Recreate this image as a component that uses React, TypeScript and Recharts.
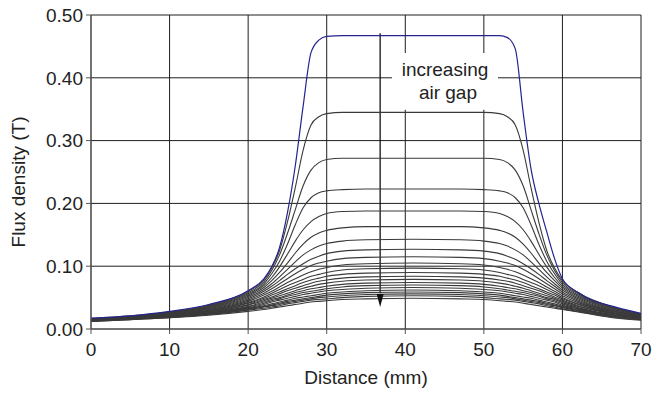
import React from 'react';
import {
  LineChart,
  Line,
  XAxis,
  YAxis,
  CartesianGrid,
  ReferenceArea,
  ReferenceLine,
  ReferenceDot,
} from 'recharts';

// distance along the magnet (mm), shared by every curve
const distance = [0, 5, 10, 15, 20, 22, 23, 24, 25, 26, 27, 28, 29, 30, 32, 35, 41, 47, 50, 52, 53, 54, 55, 56, 57, 58, 59, 60, 62, 67, 70];

// flux density (T), one row per air gap, smallest gap first
const fluxByGap: number[][] = [
  [0.017, 0.021, 0.028, 0.039, 0.061, 0.080, 0.099, 0.130, 0.185, 0.260, 0.355, 0.440, 0.460, 0.466, 0.467, 0.467, 0.467, 0.467, 0.467, 0.467, 0.464, 0.446, 0.345, 0.255, 0.200, 0.155, 0.112, 0.080, 0.058, 0.034, 0.025],
  [0.017, 0.021, 0.027, 0.038, 0.060, 0.078, 0.097, 0.125, 0.170, 0.225, 0.285, 0.325, 0.338, 0.343, 0.345, 0.345, 0.345, 0.345, 0.345, 0.343, 0.338, 0.325, 0.285, 0.225, 0.170, 0.125, 0.097, 0.077, 0.058, 0.033, 0.024],
  [0.016, 0.020, 0.027, 0.037, 0.058, 0.075, 0.093, 0.118, 0.152, 0.190, 0.228, 0.253, 0.265, 0.270, 0.272, 0.272, 0.272, 0.272, 0.272, 0.270, 0.265, 0.253, 0.228, 0.190, 0.152, 0.118, 0.093, 0.074, 0.056, 0.032, 0.024],
  [0.016, 0.020, 0.026, 0.036, 0.056, 0.072, 0.088, 0.108, 0.135, 0.166, 0.193, 0.209, 0.217, 0.220, 0.222, 0.223, 0.223, 0.223, 0.222, 0.220, 0.217, 0.209, 0.193, 0.166, 0.135, 0.108, 0.088, 0.071, 0.054, 0.031, 0.023],
  [0.016, 0.020, 0.026, 0.035, 0.054, 0.069, 0.082, 0.099, 0.119, 0.140, 0.158, 0.171, 0.179, 0.184, 0.187, 0.188, 0.188, 0.188, 0.187, 0.184, 0.179, 0.171, 0.158, 0.140, 0.119, 0.099, 0.082, 0.068, 0.052, 0.030, 0.023],
  [0.016, 0.019, 0.025, 0.034, 0.052, 0.066, 0.077, 0.090, 0.105, 0.121, 0.135, 0.146, 0.153, 0.157, 0.161, 0.163, 0.163, 0.163, 0.161, 0.157, 0.153, 0.146, 0.135, 0.121, 0.105, 0.090, 0.077, 0.065, 0.050, 0.029, 0.022],
  [0.015, 0.019, 0.025, 0.033, 0.050, 0.063, 0.072, 0.083, 0.095, 0.107, 0.118, 0.126, 0.132, 0.136, 0.140, 0.142, 0.143, 0.142, 0.140, 0.136, 0.132, 0.126, 0.118, 0.107, 0.095, 0.083, 0.072, 0.062, 0.048, 0.028, 0.022],
  [0.015, 0.019, 0.024, 0.032, 0.048, 0.060, 0.068, 0.077, 0.087, 0.096, 0.104, 0.111, 0.116, 0.120, 0.124, 0.126, 0.127, 0.126, 0.124, 0.120, 0.116, 0.111, 0.104, 0.096, 0.087, 0.077, 0.068, 0.059, 0.046, 0.027, 0.021],
  [0.015, 0.018, 0.024, 0.031, 0.046, 0.057, 0.064, 0.072, 0.080, 0.088, 0.095, 0.101, 0.105, 0.108, 0.112, 0.114, 0.115, 0.114, 0.112, 0.108, 0.105, 0.101, 0.095, 0.088, 0.080, 0.072, 0.064, 0.056, 0.044, 0.027, 0.021],
  [0.015, 0.018, 0.023, 0.030, 0.044, 0.054, 0.060, 0.067, 0.074, 0.080, 0.086, 0.091, 0.095, 0.098, 0.102, 0.104, 0.105, 0.104, 0.102, 0.098, 0.095, 0.091, 0.086, 0.080, 0.074, 0.067, 0.060, 0.053, 0.042, 0.026, 0.020],
  [0.014, 0.018, 0.023, 0.029, 0.042, 0.051, 0.057, 0.063, 0.069, 0.074, 0.079, 0.084, 0.087, 0.090, 0.094, 0.096, 0.097, 0.096, 0.094, 0.090, 0.087, 0.084, 0.079, 0.074, 0.069, 0.063, 0.057, 0.050, 0.040, 0.025, 0.020],
  [0.014, 0.018, 0.022, 0.028, 0.041, 0.049, 0.054, 0.059, 0.064, 0.069, 0.074, 0.078, 0.081, 0.084, 0.087, 0.089, 0.090, 0.089, 0.087, 0.084, 0.081, 0.078, 0.074, 0.069, 0.064, 0.059, 0.054, 0.048, 0.039, 0.024, 0.019],
  [0.014, 0.017, 0.022, 0.028, 0.039, 0.047, 0.051, 0.056, 0.061, 0.065, 0.069, 0.073, 0.076, 0.078, 0.081, 0.083, 0.084, 0.083, 0.081, 0.078, 0.076, 0.073, 0.069, 0.065, 0.061, 0.056, 0.051, 0.046, 0.037, 0.024, 0.019],
  [0.014, 0.017, 0.021, 0.027, 0.038, 0.045, 0.049, 0.053, 0.057, 0.061, 0.065, 0.068, 0.071, 0.073, 0.076, 0.078, 0.079, 0.078, 0.076, 0.073, 0.071, 0.068, 0.065, 0.061, 0.057, 0.053, 0.049, 0.044, 0.036, 0.023, 0.018],
  [0.014, 0.017, 0.021, 0.026, 0.036, 0.043, 0.047, 0.050, 0.054, 0.058, 0.061, 0.064, 0.066, 0.068, 0.071, 0.073, 0.074, 0.073, 0.071, 0.068, 0.066, 0.064, 0.061, 0.058, 0.054, 0.050, 0.047, 0.042, 0.034, 0.022, 0.018],
  [0.013, 0.017, 0.020, 0.026, 0.035, 0.041, 0.045, 0.048, 0.052, 0.055, 0.058, 0.060, 0.062, 0.064, 0.067, 0.069, 0.070, 0.069, 0.067, 0.064, 0.062, 0.060, 0.058, 0.055, 0.052, 0.048, 0.045, 0.040, 0.033, 0.021, 0.017],
  [0.013, 0.016, 0.020, 0.025, 0.034, 0.039, 0.043, 0.046, 0.049, 0.052, 0.055, 0.057, 0.059, 0.061, 0.063, 0.065, 0.066, 0.065, 0.063, 0.061, 0.059, 0.057, 0.055, 0.052, 0.049, 0.046, 0.043, 0.038, 0.032, 0.021, 0.017],
  [0.013, 0.016, 0.020, 0.025, 0.033, 0.037, 0.040, 0.043, 0.046, 0.049, 0.051, 0.053, 0.055, 0.057, 0.059, 0.061, 0.062, 0.061, 0.059, 0.057, 0.055, 0.053, 0.051, 0.049, 0.046, 0.043, 0.040, 0.036, 0.031, 0.020, 0.016],
  [0.013, 0.016, 0.019, 0.024, 0.032, 0.036, 0.038, 0.041, 0.044, 0.046, 0.048, 0.050, 0.052, 0.054, 0.056, 0.058, 0.059, 0.058, 0.056, 0.054, 0.052, 0.050, 0.048, 0.046, 0.044, 0.041, 0.038, 0.035, 0.030, 0.019, 0.016],
  [0.013, 0.016, 0.019, 0.023, 0.031, 0.035, 0.037, 0.039, 0.042, 0.044, 0.046, 0.048, 0.050, 0.051, 0.053, 0.055, 0.056, 0.055, 0.053, 0.051, 0.050, 0.048, 0.046, 0.044, 0.042, 0.039, 0.037, 0.034, 0.029, 0.019, 0.015],
  [0.012, 0.015, 0.018, 0.023, 0.030, 0.033, 0.035, 0.037, 0.040, 0.042, 0.044, 0.046, 0.047, 0.048, 0.050, 0.052, 0.053, 0.052, 0.050, 0.048, 0.047, 0.046, 0.044, 0.042, 0.040, 0.037, 0.035, 0.032, 0.028, 0.018, 0.015],
  [0.012, 0.015, 0.018, 0.022, 0.028, 0.031, 0.033, 0.035, 0.037, 0.039, 0.041, 0.043, 0.044, 0.045, 0.047, 0.048, 0.049, 0.048, 0.047, 0.045, 0.044, 0.043, 0.041, 0.039, 0.037, 0.035, 0.033, 0.031, 0.027, 0.017, 0.014],
];

const xTicks = [0, 10, 20, 30, 40, 50, 60, 70];
const yTicks = [0, 0.1, 0.2, 0.3, 0.4, 0.5];

// "increasing air gap" arrow and its note, in data units
const arrowX = 36.8;
const arrowTop = 0.471;
const arrowBase = 0.057;
const arrowTip = 0.035;
const noteBox = { x1: 38.3, x2: 51.8, y1: 0.349, y2: 0.4395 };
const noteLines = ['increasing', 'air gap'];

const data = distance.map((x, i) => {
  const row: Record<string, number> = { x };
  fluxByGap.forEach((curve, k) => {
    row[`g${k}`] = curve[i];
  });
  return row;
});

const font = '"Liberation Sans", Arial, sans-serif';
const tickStyle = { fontSize: 19, fill: '#222', fontFamily: font };

export default function App() {
  return (
    <div style={{ position: 'absolute', left: 0, top: 0, background: '#fff' }}>
      <LineChart width={652} height={401} data={data} margin={{ top: 15, right: 11, bottom: 22, left: 21 }}>
        <CartesianGrid stroke="#1e1e1e" strokeWidth={1} ticks={undefined} />
        <XAxis
          type="number"
          dataKey="x"
          domain={[0, 70]}
          ticks={xTicks}
          height={50}
          tickSize={5}
          tickMargin={9}
          stroke="#555"
          tick={tickStyle}
          label={{
            content: (p: any) => {
              const vb = p.viewBox;
              return (
                <text x={vb.x + vb.width / 2} y={vb.y + 55} textAnchor="middle" fontSize={19} fill="#222" fontFamily={font}>
                  Distance (mm)
                </text>
              );
            },
          }}
        />
        <YAxis
          type="number"
          domain={[0, 0.5]}
          ticks={yTicks}
          width={70}
          tickSize={5}
          tickMargin={3}
          stroke="#555"
          tick={tickStyle}
          tickFormatter={(v: number) => v.toFixed(2)}
          label={{
            content: (p: any) => {
              const vb = p.viewBox;
              const cx = vb.x + 4;
              const cy = vb.y + vb.height / 2 + 10;
              return (
                <text x={cx} y={cy} transform={`rotate(-90, ${cx}, ${cy})`} textAnchor="middle" fontSize={19} fill="#222" fontFamily={font}>
                  Flux density (T)
                </text>
              );
            },
          }}
        />
        <ReferenceLine
          segment={[{ x: arrowX, y: arrowTop }, { x: arrowX, y: arrowBase }]}
          stroke="#111"
          strokeWidth={1.3}
        />
        <ReferenceDot
          x={arrowX}
          y={arrowTip}
          r={0}
          shape={(p: any) => (
            <polygon points={`${p.cx - 3.5},${p.cy - 13} ${p.cx + 3.5},${p.cy - 13} ${p.cx},${p.cy}`} fill="#111" />
          )}
        />
        <ReferenceArea
          x1={noteBox.x1}
          x2={noteBox.x2}
          y1={noteBox.y1}
          y2={noteBox.y2}
          fill="#fff"
          fillOpacity={1}
          stroke="none"
          label={{
            content: (p: any) => {
              const vb = p.viewBox;
              const cx = vb.x + vb.width / 2;
              return (
                <text textAnchor="middle" fontSize={19} fill="#222" fontFamily={font}>
                  <tspan x={cx} y={vb.y + 23}>{noteLines[0]}</tspan>
                  <tspan x={cx + 3} y={vb.y + 46}>{noteLines[1]}</tspan>
                </text>
              );
            },
          }}
        />
        {fluxByGap
          .map((_, k) => k)
          .reverse()
          .map((k) => (
            <Line
              key={k}
              type="monotone"
              dataKey={`g${k}`}
              stroke={k === 0 ? '#24248f' : '#3a3a3a'}
              strokeWidth={k === 0 ? 1.2 : 1.1}
              dot={false}
              isAnimationActive={false}
            />
          ))}
      </LineChart>
    </div>
  );
}
